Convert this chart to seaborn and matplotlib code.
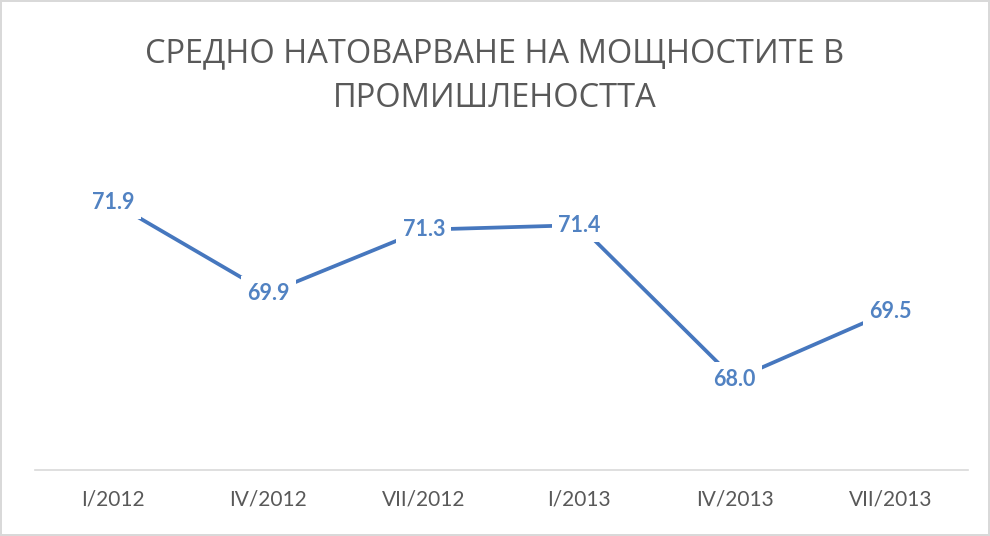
import pandas as pd
import matplotlib.pyplot as plt
import seaborn as sns

# data
periods = ['I/2012', 'IV/2012', 'VII/2012', 'I/2013', 'IV/2013', 'VII/2013']
load = [71.9, 69.9, 71.3, 71.4, 68.0, 69.5]
title = 'СРЕДНО НАТОВАРВАНЕ НА МОЩНОСТИТЕ В\nПРОМИШЛЕНОСТТА'

line_color = '#4677be'
label_color = '#5182c2'
text_gray = '#595959'

sns.set_style('white')
plt.rcParams['font.family'] = ['Lato', 'DejaVu Sans']

df = pd.DataFrame({'period': periods, 'load': load})
df['pos'] = range(len(df))

fig = plt.figure(figsize=(9.9, 5.36), dpi=100)
fig.patch.set_edgecolor('#d9d9d9')
fig.patch.set_linewidth(1.5)
ax = fig.add_axes([0.0354, 0.123, 0.9424, 0.677])

sns.lineplot(data=df, x='pos', y='load', color=line_color, linewidth=2.7, ax=ax)

for _, row in df.iterrows():
    ax.text(row['pos'], row['load'], f"{row['load']:.1f}", ha='center', va='center',
            fontsize=15.5, fontweight='bold', color=label_color,
            bbox=dict(boxstyle='square,pad=0.3', fc='white', ec='none'))

ax.set_xlim(-0.5, len(periods) - 0.5)
ax.set_ylim(66, 74)
ax.set_xticks(df['pos'])
ax.set_xticklabels(periods, fontsize=15, color=text_gray)
ax.set_yticks([])
ax.set_xlabel('')
ax.set_ylabel('')
ax.tick_params(axis='x', length=0, pad=14)
for side in ['top', 'left', 'right']:
    ax.spines[side].set_visible(False)
ax.spines['bottom'].set_color('#d9d9d9')
ax.spines['bottom'].set_linewidth(1.2)

fig.text(0.5, 0.858, title, ha='center', va='center', fontsize=23.5,
         color=text_gray, family=['Open Sans', 'DejaVu Sans'], linespacing=1.5)

fig.savefig('out.png', dpi=100)
